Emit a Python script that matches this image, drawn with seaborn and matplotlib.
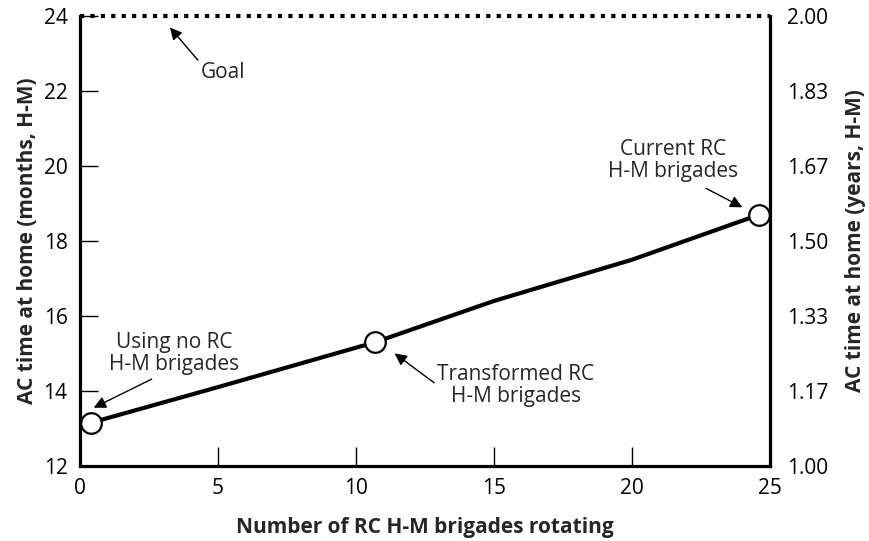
import pandas as pd
import numpy as np
import matplotlib.pyplot as plt
import seaborn as sns

# data
brigades = [0.4, 5.0, 10.7, 15.0, 20.0, 24.6]
months_home = [13.15, 14.1, 15.3, 16.4, 17.5, 18.7]
point_x = [0.4, 10.7, 24.6]
point_y = [13.15, 15.3, 18.7]
goal = 24
month_ticks = [12, 14, 16, 18, 20, 22, 24]
x_ticks = [0, 5, 10, 15, 20, 25]

df_line = pd.DataFrame({'Brigades': brigades, 'Months': months_home})
df_pts = pd.DataFrame({'Brigades': point_x, 'Months': point_y})

sns.set_theme(style="white")
plt.rcParams['font.family'] = ['Open Sans', 'DejaVu Sans']

fig = plt.figure(figsize=(8.69, 5.41), dpi=100)
ax = fig.add_axes([0.092, 0.139, 0.794, 0.831])

sns.lineplot(x='Brigades', y='Months', data=df_line, ax=ax, color='black', lw=3)
sns.scatterplot(x='Brigades', y='Months', data=df_pts, ax=ax, s=220, color='white',
                edgecolor='black', linewidth=1.6, zorder=5)
ax.axhline(goal, color='black', lw=3, ls=(0, (1, 1.5)), clip_on=False)

ax.set_xlim(0, 25)
ax.set_ylim(12, 24)
ax.set_xticks(x_ticks)
ax.set_yticks(month_ticks)
ax.tick_params(axis='y', left=True, direction='in', length=13, width=1, pad=9, labelsize=15, colors='black')
ax.tick_params(axis='x', bottom=True, direction='in', length=14, width=1, pad=9, labelsize=15, colors='black')
ax.set_xlabel('Number of RC H-M brigades rotating', fontsize=15, fontweight='bold', labelpad=13)
ax.set_ylabel('AC time at home (months, H-M)', fontsize=15, fontweight='bold', labelpad=4)

for side in ['left', 'bottom', 'right']:
    ax.spines[side].set_color('black')
    ax.spines[side].set_linewidth(2.3)
ax.spines['top'].set_visible(False)

ax2 = ax.twinx()
ax2.set_ylim(12 / 12, 24 / 12)
ax2.set_yticks([m / 12 for m in month_ticks])
ax2.set_yticklabels(['%.2f' % (m / 12) for m in month_ticks])
ax2.tick_params(axis='y', right=True, length=0, pad=12, labelsize=15, colors='black')
ax2.set_ylabel('AC time at home (years, H-M)', fontsize=15, fontweight='bold', labelpad=12)
for side in ax2.spines:
    ax2.spines[side].set_visible(False)

arrow = dict(arrowstyle='-|>', color='black', lw=1, mutation_scale=18, shrinkA=0, shrinkB=0)
ax.annotate('Goal', xy=(3.26, 23.7), xytext=(5.2, 22.5), fontsize=15,
            ha='center', va='center', arrowprops=dict(arrow, relpos=(0, 0.9)))
ax.annotate('Using no RC\nH-M brigades', xy=(0.5, 13.55), xytext=(3.4, 15.0), fontsize=15,
            ha='center', va='center', linespacing=1.05, arrowprops=dict(arrow, relpos=(0.33, -0.1)))
ax.annotate('Transformed RC\nH-M brigades', xy=(11.4, 15.0), xytext=(15.8, 14.15), fontsize=15,
            ha='center', va='center', linespacing=1.05, arrowprops=dict(arrow, relpos=(0.0, 0.5)))
ax.annotate('Current RC\nH-M brigades', xy=(24.0, 18.9), xytext=(21.5, 20.15), fontsize=15,
            ha='center', va='center', linespacing=1.05, arrowprops=dict(arrow, relpos=(0.75, -0.15)))

plt.savefig('out.png', dpi=100)
plt.close()
